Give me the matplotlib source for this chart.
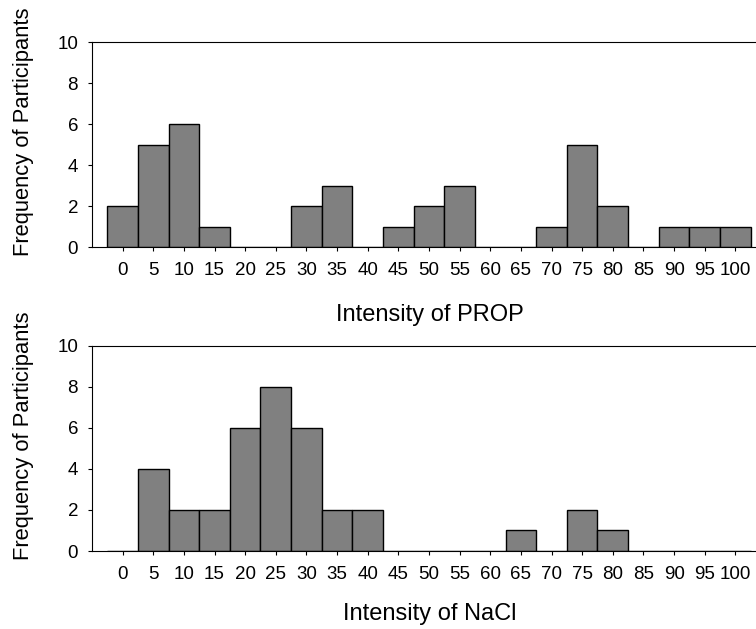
import numpy as np
import matplotlib.pyplot as plt

plt.rcParams['font.family'] = ['Liberation Sans', 'DejaVu Sans']

# bin labels (intensity ratings)
bins = ['0', '5', '10', '15', '20', '25', '30', '35', '40', '45', '50',
        '55', '60', '65', '70', '75', '80', '85', '90', '95', '100']

# frequency of participants per bin
prop_counts = [2, 5, 6, 1, 0, 0, 2, 3, 0, 1, 2, 3, 0, 0, 1, 5, 2, 0, 1, 1, 1]
nacl_counts = [0, 4, 2, 2, 6, 8, 6, 2, 2, 0, 0, 0, 0, 1, 0, 2, 1, 0, 0, 0, 0]

xlabels = ['Intensity of PROP', 'Intensity of NaCl']


def draw_hist(ax, counts, xlabel, label_y):
    x = np.arange(len(bins))
    ax.bar(x, counts, width=1.0, color='#808080', edgecolor='black',
           linewidth=1.0, zorder=2)
    ax.set_xlim(-1, len(bins))
    ax.set_ylim(0, 10)
    ax.set_yticks([0, 2, 4, 6, 8, 10])
    ax.set_xticks(x)
    ax.set_xticklabels(bins)
    ax.tick_params(axis='both', direction='out', length=3, width=0.8,
                   labelsize=13.5)
    ax.tick_params(axis='x', pad=8)
    ax.tick_params(axis='y', pad=7)
    ax.spines['right'].set_visible(False)
    for s in ['top', 'left', 'bottom']:
        ax.spines[s].set_linewidth(0.8)
    ax.set_ylabel('Frequency of Participants', fontsize=15.8)
    ax.yaxis.set_label_coords(-0.086, 0.56)
    ax.set_xlabel(xlabel, fontsize=17)
    ax.xaxis.set_label_coords(0.5007, label_y)
    ax.xaxis.label.set_verticalalignment('top')


fig = plt.figure(figsize=(7.56, 6.29), dpi=100)
ax1 = fig.add_axes([0.1217, 0.6073, 0.8915, 0.3259])
ax2 = fig.add_axes([0.1217, 0.124, 0.8915, 0.326])

draw_hist(ax1, prop_counts, xlabels[0], -0.28)
draw_hist(ax2, nacl_counts, xlabels[1], -0.255)

fig.savefig('out.png', dpi=100)
